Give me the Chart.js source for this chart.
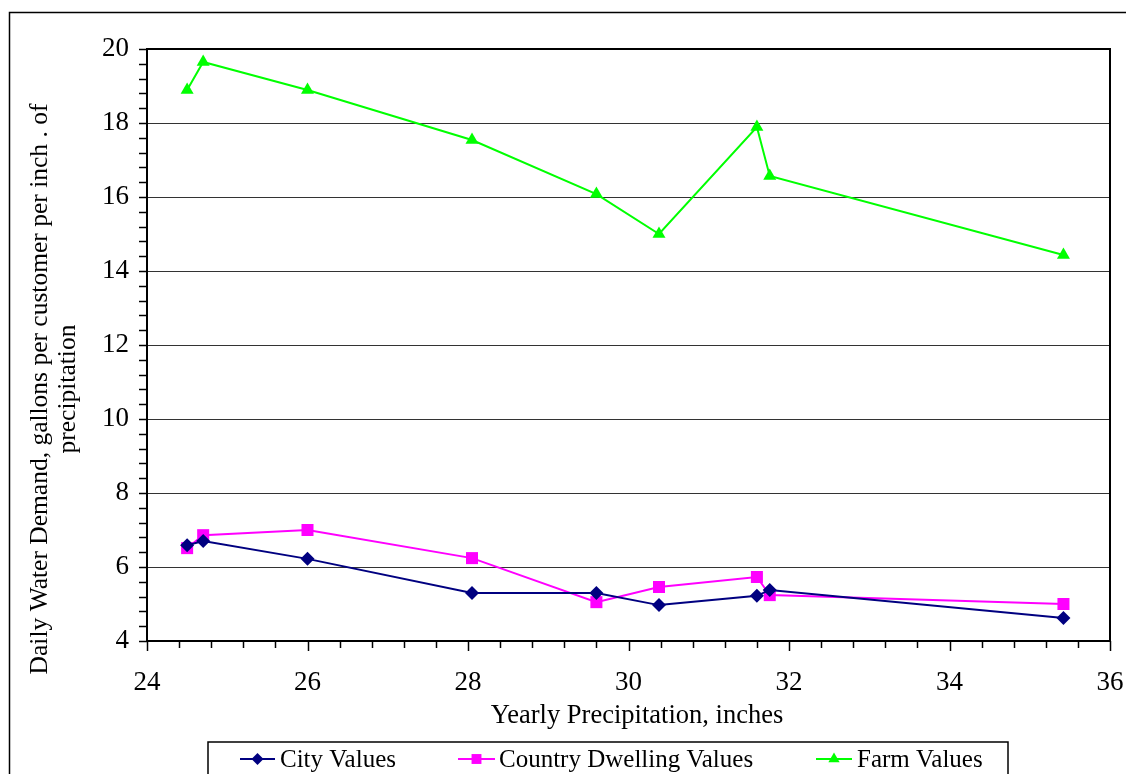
<!DOCTYPE html>
<html>
<head>
<meta charset="utf-8">
<title>Daily Water Demand vs Yearly Precipitation</title>
<script src="https://cdn.jsdelivr.net/npm/chart.js@4/dist/chart.umd.min.js"></script>
<style>
  html, body { margin: 0; padding: 0; background: #fff; }
  #chart { display: block; }
</style>
</head>
<body>
<canvas id="chart" width="1126" height="774"></canvas>
<script>
// yearly precipitation (inches) for each station
const precipitation = [24.5, 24.7, 26.0, 28.05, 29.6, 30.38, 31.6, 31.76, 35.42];

// daily demand, gallons per customer per inch of precipitation
const cityValues = [6.59, 6.70, 6.22, 5.30, 5.30, 4.97, 5.22, 5.38, 4.62];
const countryValues = [6.51, 6.86, 7.00, 6.24, 5.05, 5.46, 5.73, 5.24, 5.00];
const farmValues = [18.89, 19.65, 18.89, 17.54, 16.08, 15.00, 17.89, 16.57, 14.43];

const xTicks = { min: 24, max: 36, step: 0.4 };
const yTicks = { min: 4, max: 20, step: 0.4 };

const serif = "'Liberation Serif', 'Times New Roman', serif";

function isMajor(v) {
  return Math.abs(v / 2 - Math.round(v / 2)) < 1e-6;
}

function toPoints(ys) {
  return precipitation.map((x, i) => ({ x: x, y: ys[i] }));
}

const series = [
  { label: "City Values", data: cityValues, color: "#000080", style: "rectRot", radius: 7, legendRadius: 6 },
  { label: "Country Dwelling Values", data: countryValues, color: "#FF00FF", style: "rect", radius: 8.5, legendRadius: 7 },
  { label: "Farm Values", data: farmValues, color: "#00FF00", style: "triangle", radius: 7.5, legendRadius: 6.5 },
];

// frame, tick marks, titles and legend box
const decorations = {
  id: "decorations",
  beforeDraw(chart) {
    const ctx = chart.ctx;
    ctx.save();
    ctx.strokeStyle = "#000";
    ctx.lineWidth = 1.5;
    ctx.strokeRect(9.5, 12.5, 2000, 2000);
    ctx.restore();
  },
  afterDraw(chart) {
    const ctx = chart.ctx;
    const area = chart.chartArea;
    const xs = chart.scales.x;
    const ys = chart.scales.y;
    ctx.save();

    // top and right edges of the plot area
    ctx.strokeStyle = "#000";
    ctx.lineWidth = 2;
    ctx.beginPath();
    ctx.moveTo(area.left, area.top);
    ctx.lineTo(area.right, area.top);
    ctx.lineTo(area.right, area.bottom);
    ctx.stroke();

    // tick marks
    ctx.lineWidth = 1.5;
    xs.ticks.forEach((t) => {
      const px = Math.round(xs.getPixelForValue(t.value)) + 0.5;
      ctx.beginPath();
      ctx.moveTo(px, area.bottom);
      ctx.lineTo(px, area.bottom + (isMajor(t.value) ? 10 : 7));
      ctx.stroke();
    });
    ys.ticks.forEach((t) => {
      const py = Math.round(ys.getPixelForValue(t.value)) + 0.5;
      ctx.beginPath();
      ctx.moveTo(area.left, py);
      ctx.lineTo(area.left - 8, py);
      ctx.stroke();
    });

    // axis titles
    ctx.fillStyle = "#000";
    ctx.textAlign = "center";
    ctx.textBaseline = "middle";
    ctx.font = "26.5px " + serif;
    ctx.fillText("Yearly Precipitation, inches", 637, 716);

    ctx.save();
    ctx.font = "25.5px " + serif;
    ctx.translate(40, 389);
    ctx.rotate(-Math.PI / 2);
    ctx.fillText("Daily Water Demand, gallons per customer per inch . of", 0, 0);
    ctx.fillText("precipitation", 0, 28);
    ctx.restore();

    // legend
    ctx.strokeStyle = "#000";
    ctx.lineWidth = 1.5;
    ctx.strokeRect(208, 742, 800, 60);
    const items = [
      { x0: 240, x1: 275, tx: 280 },
      { x0: 458, x1: 495, tx: 499 },
      { x0: 816, x1: 852, tx: 857 },
    ];
    const ly = 759;
    ctx.font = "25px " + serif;
    ctx.textAlign = "left";
    series.forEach((s, i) => {
      const it = items[i];
      ctx.strokeStyle = s.color;
      ctx.lineWidth = 2;
      ctx.beginPath();
      ctx.moveTo(it.x0, ly);
      ctx.lineTo(it.x1, ly);
      ctx.stroke();
      ctx.fillStyle = s.color;
      Chart.helpers.drawPoint(ctx, { pointStyle: s.style, radius: s.legendRadius, borderWidth: 0 }, (it.x0 + it.x1) / 2, ly);
      ctx.fillStyle = "#000";
      ctx.fillText(s.label, it.tx, ly + 1);
    });

    ctx.restore();
  },
};

const chart = new Chart(document.getElementById("chart").getContext("2d"), {
  type: "line",
  data: {
    datasets: series.map((s) => ({
      label: s.label,
      data: toPoints(s.data),
      borderColor: s.color,
      backgroundColor: s.color,
      borderWidth: 2,
      pointStyle: s.style,
      pointRadius: s.radius,
      pointHoverRadius: s.radius,
      pointBorderWidth: 0,
      tension: 0,
    })),
  },
  plugins: [decorations],
  options: {
    responsive: false,
    animation: false,
    layout: { padding: { left: 9, top: 49, right: 16, bottom: 0 } },
    plugins: {
      legend: { display: false },
      tooltip: { enabled: false },
    },
    scales: {
      x: {
        type: "linear",
        min: xTicks.min,
        max: xTicks.max,
        afterFit(scale) {
          scale.height = 133;
          scale.paddingLeft = 0;
          scale.paddingRight = 0;
        },
        border: { display: true, color: "#000", width: 2 },
        grid: { display: false, drawTicks: false },
        ticks: {
          stepSize: xTicks.step,
          autoSkip: false,
          maxRotation: 0,
          padding: 26,
          color: "#000",
          font: { family: serif, size: 27 },
          callback: (v) => (isMajor(v) ? String(Math.round(v)) : ""),
        },
      },
      y: {
        min: yTicks.min,
        max: yTicks.max,
        afterFit(scale) {
          scale.width = 138;
          scale.paddingTop = 0;
          scale.paddingBottom = 0;
        },
        border: { display: true, color: "#000", width: 2 },
        grid: {
          drawTicks: false,
          lineWidth: 1,
          color: (c) => (c.tick && isMajor(c.tick.value) ? "#333" : "rgba(0,0,0,0)"),
        },
        ticks: {
          stepSize: yTicks.step,
          autoSkip: false,
          padding: 18,
          color: "#000",
          font: { family: serif, size: 27 },
          callback: (v) => (isMajor(v) ? String(Math.round(v)) : ""),
        },
      },
    },
  },
});
</script>
</body>
</html>
